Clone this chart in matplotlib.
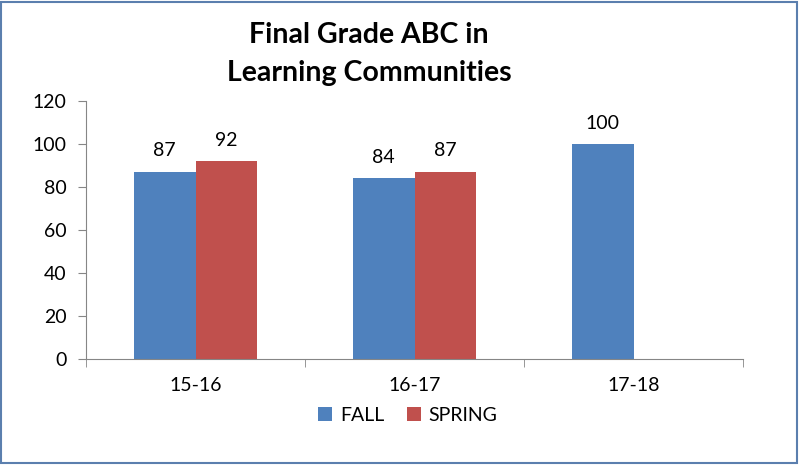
import matplotlib
matplotlib.use("Agg")
import matplotlib.pyplot as plt
from matplotlib.patches import Rectangle
import numpy as np

categories = ["15-16", "16-17", "17-18"]
fall = [87, 84, 100]
spring = [92, 87, None]
yticks = [0, 20, 40, 60, 80, 100, 120]

plt.rcParams['font.family'] = ['Lato', 'DejaVu Sans']

fig = plt.figure(figsize=(8.01, 4.69), dpi=100)
ax = fig.add_axes([86/801, 1-359/469, (743-86)/801, (359-101)/469])

x = np.arange(len(categories))
w = 0.283
blue = "#4F81BD"
red = "#C0504D"

fx = x - w/2
sx = x + w/2
b1 = ax.bar(fx, fall, w, color=blue, label="FALL")
sv = [v if v is not None else 0 for v in spring]
b2 = ax.bar(sx, sv, w, color=red, label="SPRING")
for xi, v in zip(fx, fall):
    ax.annotate(str(v), (xi, v), xytext=(0, 9), textcoords="offset points",
                ha="center", va="bottom", fontsize=14)
for xi, v, bar in zip(sx, spring, b2):
    if v is None:
        bar.set_visible(False)
        continue
    ax.annotate(str(v), (xi, v), xytext=(0, 9), textcoords="offset points",
                ha="center", va="bottom", fontsize=14)

ax.set_xlim(-0.5, len(categories) - 0.5)
ax.set_ylim(0, 120)
ax.set_yticks(yticks)
ax.set_yticklabels([str(t) for t in yticks], fontsize=14)
ax.set_xticks(x)
ax.set_xticklabels(categories, fontsize=14)
ax.tick_params(axis='x', length=0, pad=13)
ax.set_xticks(np.arange(-0.5, len(categories)), minor=True)
ax.tick_params(axis='x', which='minor', length=6, color="#868686")
ax.tick_params(axis='y', length=6, color="#868686", pad=8)
for s in ["top", "right"]:
    ax.spines[s].set_visible(False)
for s in ["left", "bottom"]:
    ax.spines[s].set_color("#868686")

fig.text(369/801, 1-35/469, "Final Grade ABC in", ha="center", va="center",
         fontsize=20.5, fontweight="bold")
fig.text(369/801, 1-73/469, "Learning Communities", ha="center", va="center",
         fontsize=20.5, fontweight="bold")

fig.legend(handles=[b1, b2], labels=["FALL", "SPRING"], loc="center",
           bbox_to_anchor=(408/801, 1-415/469), ncol=2, frameon=False,
           fontsize=14, handlelength=0.7, handleheight=0.7, handletextpad=0.4,
           columnspacing=1.2)

fig.patches.append(Rectangle((1/801, 1-463/469), 796/801, 461/469,
                             transform=fig.transFigure, fill=False,
                             edgecolor="#5B7FAE", linewidth=1.5))

fig.savefig("out.png", dpi=100)
